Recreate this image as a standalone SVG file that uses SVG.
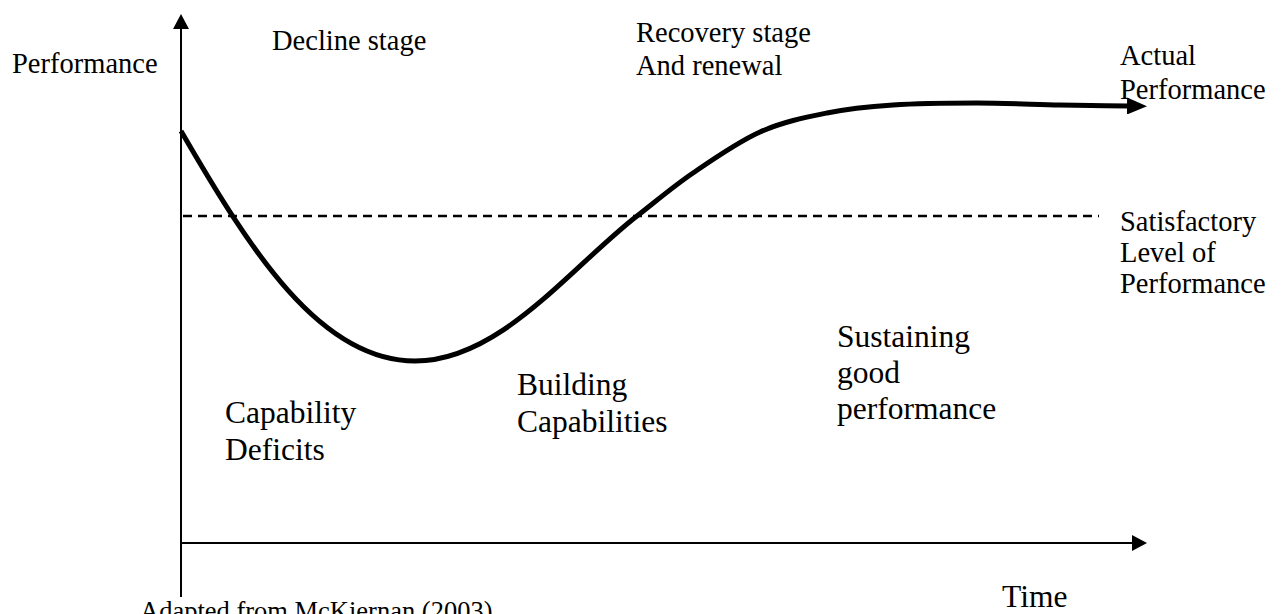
<svg xmlns="http://www.w3.org/2000/svg" width="1283" height="614" viewBox="0 0 1283 614">
  <style>
    .lbl { font-family: "Liberation Serif", "Times New Roman", serif; fill: #000; }
    .a { font-size: 28.5px; }
    .b { font-size: 31.5px; }
    .c { font-size: 26.5px; }
    .axis { stroke: #000; stroke-width: 2; fill: none; }
    .dash { stroke: #000; stroke-width: 2.5; fill: none; stroke-dasharray: 9 6; }
    .curve { stroke: #000; stroke-width: 5; fill: none; }
  </style>
  <defs>
    <marker id="axisArrow" markerUnits="userSpaceOnUse" viewBox="0 0 15 16" refX="0" refY="8" markerWidth="15" markerHeight="16" orient="auto">
      <path d="M0,0 L15,8 L0,16 z" fill="#000"/>
    </marker>
    <marker id="curveArrow" markerUnits="userSpaceOnUse" viewBox="0 0 20 17" refX="1" refY="8.5" markerWidth="20" markerHeight="17" orient="auto">
      <path d="M0,0 L20,8.5 L0,17 z" fill="#000"/>
    </marker>
  </defs>
  <rect width="1283" height="614" fill="#fff"/>

  <g id="connectors">
    <line id="y-axis" class="axis" x1="181" y1="597" x2="181" y2="29" marker-end="url(#axisArrow)"/>
    <line id="x-axis" class="axis" x1="181" y1="543" x2="1132" y2="543" marker-end="url(#axisArrow)"/>
    <line id="satisfactory-line" class="dash" x1="183" y1="216" x2="1099" y2="216"/>
    <path id="performance-curve" class="curve" d="M181,131 C250,250 320,361 415,361 C500,361 570,268 637,216 C655.7,201.5 672.5,187 693,173 C713.5,159 737.7,142 760,132 C782.3,122 804.8,117.5 827,113 C849.2,108.5 868,106.7 893,105 C918,103.3 949.2,103 977,103 C1004.8,103 1034.8,104.5 1060,105 C1085.2,105.5 1105.3,105.7 1128,106" marker-end="url(#curveArrow)"/>
  </g>

  <g id="label-performance-axis"><text class="lbl a" x="12" y="73">Performance</text></g>
  <g id="label-decline"><text class="lbl a" x="272" y="50">Decline stage</text></g>
  <g id="label-recovery">
    <text class="lbl a" x="636" y="42">Recovery stage</text>
    <text class="lbl a" x="636" y="75">And renewal</text>
  </g>
  <g id="label-actual">
    <text class="lbl a" x="1120" y="65">Actual</text>
    <text class="lbl a" x="1120" y="99">Performance</text>
  </g>
  <g id="label-satisfactory">
    <text class="lbl a" x="1120" y="231">Satisfactory</text>
    <text class="lbl a" x="1120" y="262">Level of</text>
    <text class="lbl a" x="1120" y="293">Performance</text>
  </g>
  <g id="label-sustaining">
    <text class="lbl b" x="837" y="347">Sustaining</text>
    <text class="lbl b" x="837" y="383">good</text>
    <text class="lbl b" x="837" y="419">performance</text>
  </g>
  <g id="label-building">
    <text class="lbl b" x="517" y="395">Building</text>
    <text class="lbl b" x="517" y="432">Capabilities</text>
  </g>
  <g id="label-deficits">
    <text class="lbl b" x="225" y="423">Capability</text>
    <text class="lbl b" x="225" y="460">Deficits</text>
  </g>
  <g id="label-time"><text class="lbl b" x="1002" y="607">Time</text></g>
  <g id="label-source"><text class="lbl c" x="140" y="620">Adapted from McKiernan (2003)</text></g>
</svg>
